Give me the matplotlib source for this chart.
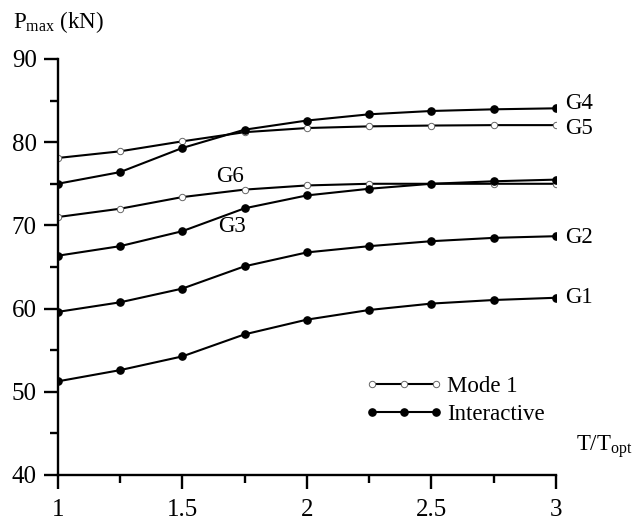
import matplotlib.pyplot as plt
from matplotlib.ticker import MultipleLocator

plt.rcParams["font.family"] = ["Liberation Serif", "DejaVu Serif"]
plt.rcParams["mathtext.fontset"] = "custom"
plt.rcParams["mathtext.rm"] = "Liberation Serif"

t_ratio = [1.0, 1.25, 1.5, 1.75, 2.0, 2.25, 2.5, 2.75, 3.0]

# Mode 1 curves (open markers)
g5 = [78.1, 78.9, 80.1, 81.2, 81.7, 81.9, 82.0, 82.05, 82.05]
g6 = [71.0, 72.0, 73.4, 74.3, 74.8, 75.0, 75.0, 75.0, 75.0]

# Interactive curves (filled markers)
g4 = [75.0, 76.4, 79.3, 81.5, 82.6, 83.35, 83.75, 83.95, 84.07]
g3 = [66.35, 67.5, 69.3, 72.05, 73.6, 74.4, 75.0, 75.3, 75.5]
g2 = [59.6, 60.75, 62.4, 65.08, 66.75, 67.5, 68.1, 68.5, 68.7]
g1 = [51.25, 52.6, 54.25, 56.9, 58.67, 59.83, 60.6, 61.03, 61.3]

mode1_style = dict(color="black", lw=1.5, marker="o", ms=4.6,
                   mfc="white", mec="#666666", mew=0.7)
inter_style = dict(color="black", lw=1.5, marker="o", ms=5.2,
                   mfc="black", mec="black")

fig = plt.figure(figsize=(6.36, 5.16), dpi=100)
ax = fig.add_axes([0.0907, 0.0795, 0.7835, 0.8062])

ax.plot(t_ratio, g5, **mode1_style, label="Mode 1")
ax.plot(t_ratio, g6, **mode1_style)
ax.plot(t_ratio, g4, **inter_style, label="Interactive")
ax.plot(t_ratio, g3, **inter_style)
ax.plot(t_ratio, g2, **inter_style)
ax.plot(t_ratio, g1, **inter_style)

ax.set_xlim(1, 3)
ax.set_ylim(40, 90)
ax.xaxis.set_major_locator(MultipleLocator(0.5))
ax.xaxis.set_minor_locator(MultipleLocator(0.25))
ax.yaxis.set_major_locator(MultipleLocator(10))
ax.yaxis.set_minor_locator(MultipleLocator(5))
ax.set_xticks([1, 1.5, 2, 2.5, 3], ["1", "1.5", "2", "2.5", "3"])

for side in ("top", "right"):
    ax.spines[side].set_visible(False)
for side in ("left", "bottom"):
    ax.spines[side].set_linewidth(1.7)

ax.tick_params(which="major", direction="out", length=10, width=1.7,
               labelsize=18)
ax.tick_params(which="minor", direction="out", length=5.5, width=1.7)
ax.tick_params(axis="y", pad=5)
ax.tick_params(axis="x", pad=7)

# curve names
label_kw = dict(fontsize=16.5, ha="left", va="center", clip_on=False)
ax.text(3.035, 84.6, "G4", **label_kw)
ax.text(3.035, 81.6, "G5", **label_kw)
ax.text(3.035, 68.5, "G2", **label_kw)
ax.text(3.035, 61.3, "G1", **label_kw)
ax.text(1.69, 75.9, "G6", fontsize=16.5, ha="center", va="center")
ax.text(1.70, 69.9, "G3", fontsize=16.5, ha="center", va="center")

ax.legend(loc="lower left", bbox_to_anchor=(0.575, 0.07), frameon=False,
          numpoints=3, handlelength=3.4, handletextpad=0.2,
          labelspacing=0.3, fontsize=16.5)

fig.text(0.02, 0.957, r"$\mathregular{P_{max}}$ (kN)", fontsize=16.5,
         ha="left", va="center")
fig.text(0.905, 0.135, r"$\mathregular{T/T_{opt}}$", fontsize=16.5,
         ha="left", va="center")

fig.savefig("out.png", dpi=100)
